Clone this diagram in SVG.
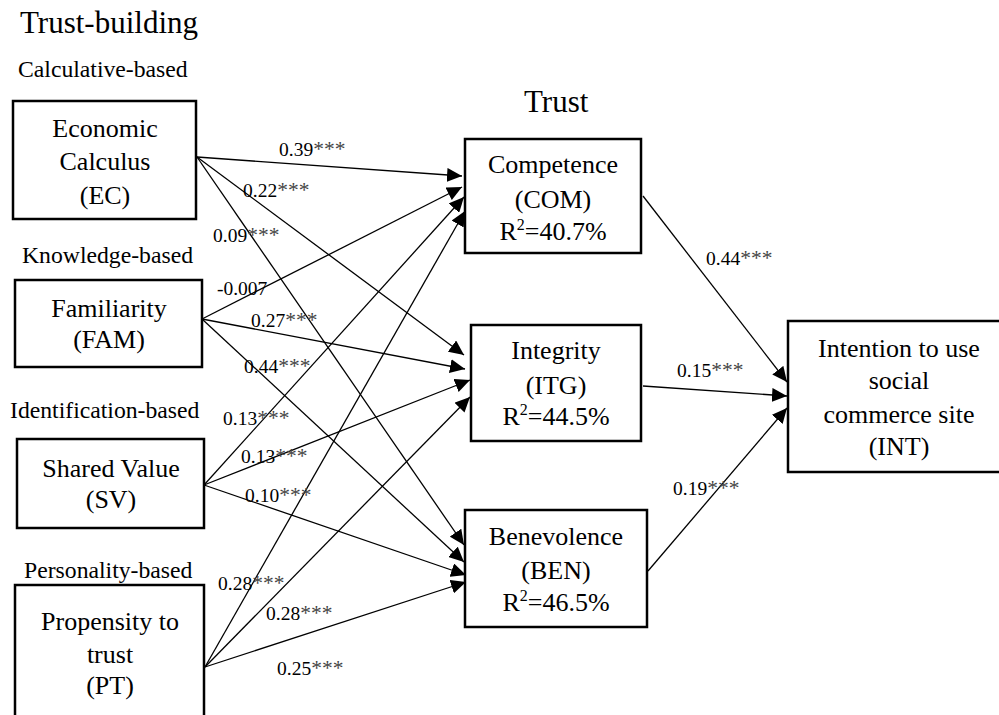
<svg xmlns="http://www.w3.org/2000/svg" width="999" height="715" viewBox="0 0 999 715">
<style>
  text { font-family: "Liberation Serif", "Times New Roman", serif; fill: #000; }
  .title { font-size: 31px; }
  .cat { font-size: 23.7px; }
  .node rect { fill: #fff; stroke: #000; stroke-width: 2.5; }
  .node text { font-size: 26px; text-anchor: middle; }
  .edge { fill: none; stroke: #000; stroke-width: 1.3; marker-end: url(#arrow); }
  .lbl { font-size: 19.5px; }
  .ast { fill: #444; font-size: 21.5px; }
</style>
<defs>
  <marker id="arrow" markerUnits="userSpaceOnUse" markerWidth="16" markerHeight="14" refX="15" refY="7" orient="auto">
    <path d="M0,0 L15,7 L0,14 Z" fill="#000"/>
  </marker>
</defs>
<rect width="999" height="715" fill="#fff"/>

<text class="title" x="20" y="33">Trust-building</text>
<text class="title" x="524" y="112">Trust</text>
<text class="cat" x="18" y="77">Calculative-based</text>
<text class="cat" x="22" y="263">Knowledge-based</text>
<text class="cat" x="10" y="418">Identification-based</text>
<text class="cat" x="24" y="578">Personality-based</text>

<g id="connectors">
  <line class="edge" x1="197" y1="157" x2="462" y2="176"/>
  <line class="edge" x1="197" y1="157" x2="464" y2="355"/>
  <line class="edge" x1="197" y1="157" x2="464" y2="545"/>
  <line class="edge" x1="202" y1="319" x2="462" y2="187"/>
  <line class="edge" x1="202" y1="319" x2="465" y2="369"/>
  <line class="edge" x1="202" y1="319" x2="464" y2="562"/>
  <line class="edge" x1="204" y1="485" x2="464" y2="197"/>
  <line class="edge" x1="204" y1="485" x2="470" y2="380"/>
  <line class="edge" x1="204" y1="485" x2="466" y2="575"/>
  <line class="edge" x1="205" y1="667" x2="465" y2="211"/>
  <line class="edge" x1="205" y1="667" x2="470" y2="397"/>
  <line class="edge" x1="205" y1="667" x2="466" y2="582"/>
  <line class="edge" x1="643" y1="196" x2="787" y2="382"/>
  <line class="edge" x1="643" y1="386" x2="787" y2="396"/>
  <line class="edge" x1="648" y1="571" x2="787" y2="408"/>
</g>

<g id="edge-labels">
  <text class="lbl" x="279" y="156">0.39<tspan class="ast">***</tspan></text>
  <text class="lbl" x="243" y="197">0.22<tspan class="ast">***</tspan></text>
  <text class="lbl" x="213" y="242">0.09<tspan class="ast">***</tspan></text>
  <text class="lbl" x="217" y="295">-0.007</text>
  <text class="lbl" x="251" y="327">0.27<tspan class="ast">***</tspan></text>
  <text class="lbl" x="244" y="373">0.44<tspan class="ast">***</tspan></text>
  <text class="lbl" x="223" y="425">0.13<tspan class="ast">***</tspan></text>
  <text class="lbl" x="241" y="463">0.13<tspan class="ast">***</tspan></text>
  <text class="lbl" x="245" y="502">0.10<tspan class="ast">***</tspan></text>
  <text class="lbl" x="218" y="590">0.28<tspan class="ast">***</tspan></text>
  <text class="lbl" x="266" y="620">0.28<tspan class="ast">***</tspan></text>
  <text class="lbl" x="277" y="675">0.25<tspan class="ast">***</tspan></text>
  <text class="lbl" x="706" y="265">0.44<tspan class="ast">***</tspan></text>
  <text class="lbl" x="677" y="377">0.15<tspan class="ast">***</tspan></text>
  <text class="lbl" x="673" y="495">0.19<tspan class="ast">***</tspan></text>
</g>

<g id="EC" class="node">
  <rect x="13" y="101" width="183" height="118"/>
  <text x="105" y="137">Economic</text>
  <text x="105" y="170">Calculus</text>
  <text x="105" y="204">(EC)</text>
</g>
<g id="FAM" class="node">
  <rect x="15" y="280" width="187" height="87"/>
  <text x="109" y="317">Familiarity</text>
  <text x="109" y="348">(FAM)</text>
</g>
<g id="SV" class="node">
  <rect x="17" y="439" width="187" height="89"/>
  <text x="111" y="477">Shared Value</text>
  <text x="111" y="508">(SV)</text>
</g>
<g id="PT" class="node">
  <rect x="15" y="585" width="189" height="140"/>
  <text x="110" y="630">Propensity to</text>
  <text x="110" y="663">trust</text>
  <text x="110" y="694">(PT)</text>
</g>
<g id="COM" class="node">
  <rect x="465" y="139" width="176" height="114"/>
  <text x="553" y="173">Competence</text>
  <text x="553" y="208">(COM)</text>
  <text x="553" y="240">R<tspan dy="-10" font-size="16">2</tspan><tspan dy="10">=40.7%</tspan></text>
</g>
<g id="ITG" class="node">
  <rect x="471" y="325" width="170" height="116"/>
  <text x="556" y="359">Integrity</text>
  <text x="556" y="394">(ITG)</text>
  <text x="556" y="425">R<tspan dy="-10" font-size="16">2</tspan><tspan dy="10">=44.5%</tspan></text>
</g>
<g id="BEN" class="node">
  <rect x="465" y="510" width="182" height="117"/>
  <text x="556" y="545">Benevolence</text>
  <text x="556" y="579">(BEN)</text>
  <text x="556" y="611">R<tspan dy="-10" font-size="16">2</tspan><tspan dy="10">=46.5%</tspan></text>
</g>
<g id="INT" class="node">
  <rect x="788" y="321" width="220" height="151"/>
  <text x="899" y="357">Intention to use</text>
  <text x="899" y="389">social</text>
  <text x="899" y="423">commerce site</text>
  <text x="899" y="455">(INT)</text>
</g>
</svg>
